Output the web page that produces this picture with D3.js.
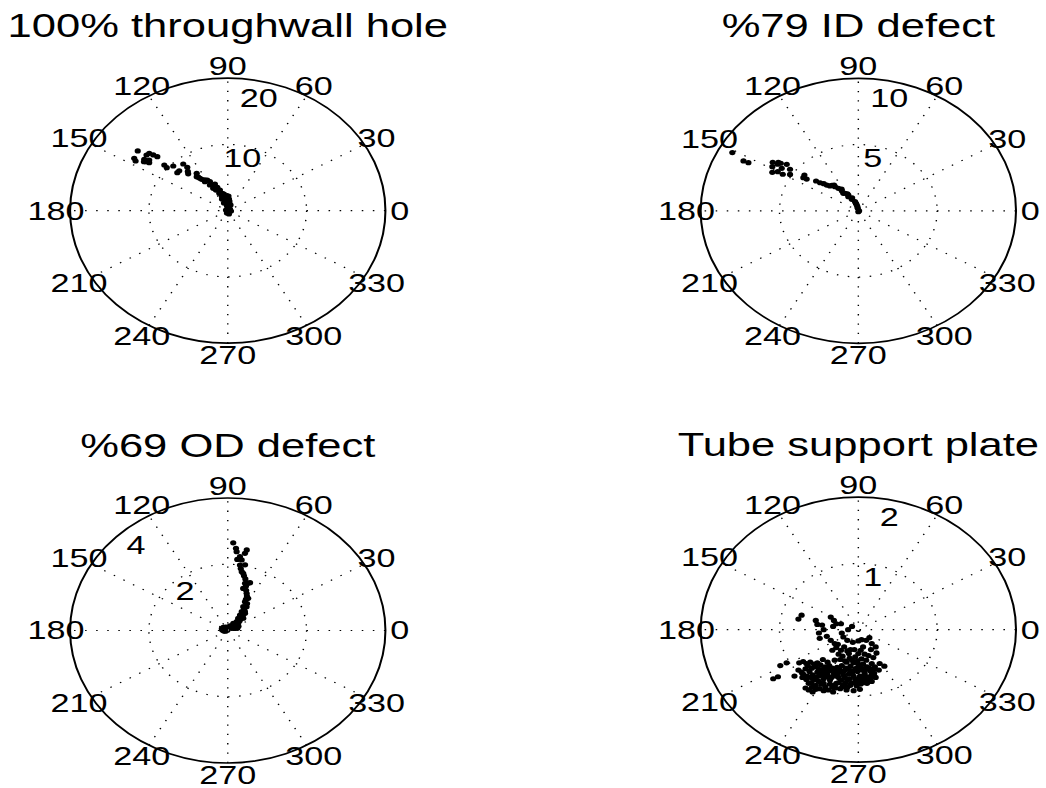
<!DOCTYPE html>
<html>
<head>
<meta charset="utf-8">
<script src="https://cdn.jsdelivr.net/npm/d3@7"></script>
<style>
body { margin: 0; background: #fff; }
svg { display: block; }
text { font-family: "Liberation Sans", Arial, Helvetica, sans-serif; fill: #000; }
</style>
</head>
<body>
<script>
var width = 1046,
    height = 788;

var stretch = 1.19;       // the figure is drawn wider than tall
var textStretch = 1.126;  // lettering is wider still
var R = 132.5;            // outer circle radius (inner units)

var angleTicks = [0, 30, 60, 90, 120, 150, 180, 210, 240, 270, 300, 330];
var spokeAngles = [30, 60, 90, 120, 150, 180];

// 100% throughwall hole
var holeRings = [10, 20];
var holeTheta = [141.7, 146.3, 147.3, 139.0, 138.3, 137.6, 143.8, 144.6, 144.0, 139.4,
                 140.0, 135.7, 135.6, 138.1, 128.7, 128.1, 124.9, 125.8, 127.5, 119.3,
                 117.3, 112.0, 110.6, 116.3, 107.7, 100.8, 96.9, 90.0, 99.0, 155.0,
                 87.7, 85.0, 79.7, 74.9, 304.0, 253.0, 42.6, 68.0, 81.8, 124.9,
                 123.5, 120.3, 118.6, 115.6, 112.2, 109.1, 104.5, 140.8, 142.5, 145.2,
                 112.6, 112.7, 354.0, 287.0, 132.0, 130.5, 126.5, 122.0, 114.0, 105.0,
                 98.0, 93.0, 88.0, 95.0, 100.0];
var holeRho   = [14.55, 14.26, 13.89, 13.2, 12.65, 12.1, 13.13, 12.77, 12.32, 10.6,
                 10.1, 9.66, 8.62, 8.6, 9.03, 8.32, 6.89, 6.03, 6.47, 5.31,
                 4.93, 4.35, 3.77, 4.16, 3.28, 2.57, 1.89, 1.36, 0.87, 0.25,
                 2.22, 1.77, 1.18, 0.58, 0.05, 0.36, 0.38, 0.93, 1.48, 5.78,
                 5.25, 4.49, 3.85, 3.46, 2.84, 2.35, 1.93, 13.3, 12.56, 12.95,
                 1.26, 1.91, 0.41, 0.52, 7.5, 7.8, 6.3, 5.5, 3.9, 2.7,
                 2.1, 1.7, 1.0, 0.6, 1.5];

// %79 ID defect
var idRings = [5, 10];
var idTheta = [151.2, 152.7, 152.5, 146.0, 144.2, 143.9, 142.3, 148.6, 146.6, 144.1,
               152.0, 150.1, 147.6, 141.7, 143.8, 144.4, 138.9, 135.9, 133.8, 128.3,
               126.7, 124.7, 125.8, 120.8, 115.6, 107.0, 102.6, 101.0, 0.0, 129.1,
               122.6, 118.0, 270.0, 101.0, 140.0, 137.0, 131.0, 123.0, 118.5, 112.0,
               105.0, 150.0, 145.5];
var idRho   = [9.12, 8.2, 7.86, 6.55, 6.26, 6.09, 5.74, 6.39, 5.82, 5.35,
               6.18, 5.53, 5.13, 4.36, 4.06, 4.29, 3.22, 2.79, 2.6, 2.48,
               2.12, 1.84, 1.63, 1.24, 0.96, 0.72, 0.45, 0.19, 0.05, 2.35,
               1.57, 1.35, 0.07, 0.32, 3.5, 3.0, 2.55, 1.95, 1.45, 1.05,
               0.58, 5.9, 6.2];

// %69 OD defect
var odRings = [2, 4];
var odTheta = [87.0, 85.2, 84.6, 78.8, 79.4, 82.1, 83.6, 80.6, 81.1, 77.5,
               78.7, 77.2, 70.0, 68.6, 72.9, 72.9, 66.9, 61.9, 63.3, 61.4,
               56.3, 58.1, 49.9, 56.4, 54.2, 43.2, 49.6, 57.4, 68.0, 106.0,
               140.0, 160.0, 168.0, 34.0, 31.0, 80.0, 76.0, 74.0, 71.0, 69.0,
               65.0, 64.0, 59.0, 58.0, 53.0, 50.0, 47.0, 44.0, 40.0, 38.0,
               45.0, 30.0, 20.0, 175.0, 190.0, 200.0, 120.0, 15.0, 25.0];
var odRho   = [2.65, 2.49, 2.39, 2.48, 2.37, 2.25, 2.16, 2.16, 2.0, 2.03,
               1.81, 1.77, 1.52, 1.55, 1.49, 1.33, 1.22, 1.10, 0.97, 0.82,
               0.86, 0.67, 0.68, 0.56, 0.45, 0.54, 0.35, 0.26, 0.15, 0.10,
               0.15, 0.16, 0.07, 0.12, 0.26, 1.90, 1.70, 1.62, 1.42, 1.30,
               1.15, 1.05, 0.95, 0.78, 0.72, 0.60, 0.50, 0.42, 0.35, 0.30,
               0.22, 0.20, 0.18, 0.14, 0.10, 0.06, 0.12, 0.25, 0.30];

// Tube support plate (real / imaginary parts)
var tspRings = [1, 2];
var tspRe = [-0.72, -0.76, -0.54, -0.52, -0.46, -0.44, -0.50, -0.35, -0.31, -0.28,
             -0.32, -0.22, -0.21, -0.13, -0.08, -0.49, -0.35, -0.30, -0.19, -0.14,
             -0.07, 0.00, 0.04, 0.10, 0.14, 0.17, 0.22, -0.33, -0.28, -0.25,
             -0.22, -0.18, -0.14, -0.10, -0.91, -0.99, -1.02, -1.08, -0.81, 0.33,
             -0.30, -0.23, -0.17, -0.11, -0.04, 0.00, 0.03, 0.08, 0.13, 0.19,
             0.23, -0.75, -0.70, -0.66, -0.61, -0.56, -0.52, -0.48, -0.42, -0.37,
             -0.33, -0.27, -0.21, -0.16, -0.10, -0.04, 0.01, 0.06, 0.11, 0.17,
             0.21, 0.26, -0.76, -0.72, -0.67, -0.62, -0.58, -0.53, -0.47, -0.41,
             -0.36, -0.31, -0.25, -0.19, -0.14, -0.09, -0.04, 0.02, 0.07, 0.12,
             0.17, 0.22, 0.11, 0.03, -0.19, -0.28, -0.33, -0.44, -0.50, -0.56,
             -0.63, -0.67, -0.63, -0.59, -0.49, -0.38, -0.32, -0.23, -0.14, -0.02,
             0.02, -0.06, -0.39, -0.45, -0.15, -0.06, -0.01, 0.04, 0.16, -0.23,
             -0.12, -0.01, 0.05, 0.15, -0.37, -0.44, -0.50, -0.71, -0.66, 0.17,
             0.27, -0.15, -0.29,
             -0.64, -0.59, -0.54, -0.45, -0.40, -0.35, -0.29, -0.24, -0.18, -0.12,
             -0.07, -0.02, 0.04, 0.09, 0.14, 0.19, -0.70, -0.65, -0.60, -0.55,
             -0.50, -0.44, -0.39, -0.34, -0.28, -0.22, -0.17, -0.11, -0.06, 0.00,
             0.05, 0.10, 0.15, 0.20, -0.60, -0.54, -0.47, -0.42, -0.36, -0.30,
             -0.25, -0.20, -0.16, -0.10, -0.05, 0.00, 0.06, 0.13, -0.52, -0.46,
             -0.42, -0.26, -0.08, 0.08, 0.00, -0.08, 0.10, -0.20, -0.12, -0.05,
             0.06, -0.26, -0.40, -0.44, -0.54, -0.58];
var tspIm = [0.22, 0.16, 0.14, 0.08, 0.07, 0.00, -0.05, 0.19, 0.14, 0.09,
             0.05, 0.09, -0.05, 0.00, 0.05, -0.13, -0.16, -0.21, -0.11, -0.16,
             -0.19, -0.17, -0.15, -0.16, -0.12, -0.21, -0.26, -0.31, -0.27, -0.37,
             -0.31, -0.26, -0.32, -0.30, -0.50, -0.54, -0.71, -0.74, -0.70, -0.55,
             -0.46, -0.45, -0.47, -0.43, -0.41, -0.36, -0.31, -0.37, -0.39, -0.42,
             -0.35, -0.50, -0.48, -0.51, -0.49, -0.52, -0.50, -0.53, -0.56, -0.54,
             -0.58, -0.57, -0.54, -0.58, -0.55, -0.59, -0.55, -0.52, -0.56, -0.51,
             -0.56, -0.61, -0.61, -0.64, -0.59, -0.63, -0.68, -0.71, -0.68, -0.71,
             -0.76, -0.66, -0.72, -0.68, -0.76, -0.81, -0.74, -0.70, -0.76, -0.71,
             -0.67, -0.72, -0.81, -0.82, -0.83, -0.81, -0.87, -0.81, -0.78, -0.76,
             -0.81, -0.88, -0.91, -0.87, -0.89, -0.91, -0.94, -0.89, -0.87, -0.85,
             -0.90, -0.92, -0.49, -0.45, -0.49, -0.50, -0.47, -0.44, -0.30, -0.63,
             -0.67, -0.63, -0.61, -0.62, -0.62, -0.62, -0.60, -0.72, -0.75, -0.78,
             -0.51, -0.91, -0.88,
             -0.55, -0.58, -0.56, -0.60, -0.58, -0.60, -0.62, -0.60, -0.62, -0.60,
             -0.63, -0.58, -0.58, -0.60, -0.58, -0.60, -0.67, -0.70, -0.72, -0.74,
             -0.70, -0.74, -0.68, -0.72, -0.70, -0.76, -0.72, -0.74, -0.70, -0.74,
             -0.72, -0.74, -0.72, -0.66, -0.80, -0.84, -0.82, -0.86, -0.82, -0.84,
             -0.80, -0.86, -0.80, -0.84, -0.80, -0.78, -0.80, -0.76, -0.64, -0.66,
             -0.64, -0.66, -0.66, -0.66, -0.52, -0.46, -0.46, -0.40, -0.36, -0.30,
             -0.26, -0.22, -0.10, -0.92, -0.90, -0.94];

function polarPoints(theta, rho) {
  return theta.map(function(t, i) { return {theta: t, rho: rho[i]}; });
}
function cartPoints(re, im) {
  return re.map(function(x, i) { return {re: x, im: im[i]}; });
}

var panels = [
  {title: "100% throughwall hole", cx: 191.4, cy: 210.7, rmax: 20, rings: holeRings, labelAngle: 77,
   points: polarPoints(holeTheta, holeRho)},
  {title: "%79 ID defect", cx: 721.3, cy: 210.8, rmax: 10, rings: idRings, labelAngle: 77,
   points: polarPoints(idTheta, idRho)},
  {title: "%69 OD defect", cx: 191.4, cy: 630.5, rmax: 4, rings: odRings, labelAngle: 132,
   points: polarPoints(odTheta, odRho)},
  {title: "Tube support plate", cx: 721.3, cy: 629.7, rmax: 2, rings: tspRings, labelAngle: 77,
   points: cartPoints(tspRe, tspIm)}
];

var svg = d3.select("body").append("svg")
    .attr("width", width)
    .attr("height", height)
    .attr("viewBox", [0, 0, width / stretch, height].join(" "))
    .attr("preserveAspectRatio", "none");

function rad(deg) { return (90 - deg) * Math.PI / 180; } // d3.pointRadial angle

function label(sel, x, y, txt, size, anchor, dy) {
  sel.append("text")
    .attr("transform", "translate(" + x + "," + y + ") scale(" + textStretch + ",1)")
    .attr("text-anchor", anchor)
    .attr("dy", dy)
    .attr("font-size", size)
    .text(txt);
}

panels.forEach(function(p) {
  var r = d3.scaleLinear().domain([0, p.rmax]).range([0, R]);
  var g = svg.append("g").attr("transform", "translate(" + p.cx + "," + p.cy + ")");

  // dotted spokes (full diameters)
  g.selectAll("line.spoke")
    .data(spokeAngles)
    .enter().append("line")
    .attr("class", "spoke")
    .attr("x1", function(d) { return d3.pointRadial(rad(d + 180), r(p.rmax))[0]; })
    .attr("y1", function(d) { return d3.pointRadial(rad(d + 180), r(p.rmax))[1]; })
    .attr("x2", function(d) { return d3.pointRadial(rad(d), r(p.rmax))[0]; })
    .attr("y2", function(d) { return d3.pointRadial(rad(d), r(p.rmax))[1]; })
    .attr("stroke", "#000")
    .attr("stroke-width", 1.2)
    .attr("stroke-dasharray", "1.3,8");

  // dotted inner rings
  g.selectAll("circle.ring")
    .data(p.rings.slice(0, -1))
    .enter().append("circle")
    .attr("class", "ring")
    .attr("r", function(d) { return r(d); })
    .attr("fill", "none")
    .attr("stroke", "#000")
    .attr("stroke-width", 1.2)
    .attr("stroke-dasharray", "1.3,8");

  // outer circle
  g.append("circle")
    .attr("r", r(p.rmax))
    .attr("fill", "none")
    .attr("stroke", "#000")
    .attr("stroke-width", 1.7);

  // angle labels
  angleTicks.forEach(function(a) {
    var pt = d3.pointRadial(rad(a), r(p.rmax * 1.09));
    label(g, pt[0], pt[1], String(a), 25.5, "middle", "0.35em");
  });

  // ring labels
  p.rings.forEach(function(v) {
    var pt = d3.pointRadial(rad(p.labelAngle), r(v * 0.93 - 0.06 * p.rmax));
    label(g, pt[0], pt[1], String(v), 25.5, "middle", "0.35em");
  });

  // data
  g.selectAll("circle.dot")
    .data(p.points)
    .enter().append("circle")
    .attr("class", "dot")
    .attr("cx", function(d) {
      return d.theta !== undefined ? d3.pointRadial(rad(d.theta), r(d.rho))[0] : r(d.re);
    })
    .attr("cy", function(d) {
      return d.theta !== undefined ? d3.pointRadial(rad(d.theta), r(d.rho))[1] : -r(d.im);
    })
    .attr("r", 2.6)
    .attr("fill", "#000");

  // title
  label(svg, p.cx, p.cy - R - 41, p.title, 32.5, "middle", 0);
});
</script>
</body>
</html>
